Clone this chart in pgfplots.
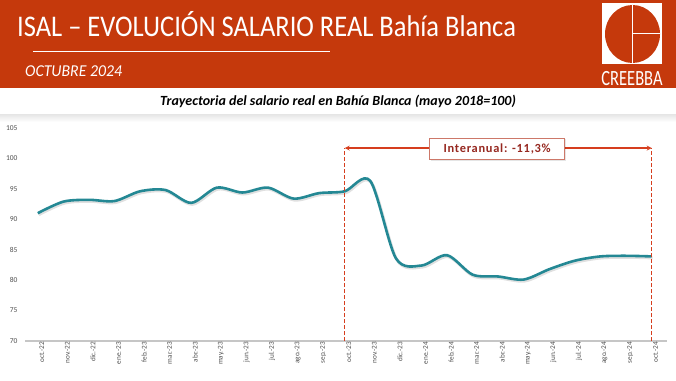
\documentclass[border=0pt]{standalone}
\usepackage{pgfplots}
\pgfplotsset{compat=1.18}
\usepackage{fontspec}
\setmainfont{Carlito}
\newfontfamily\spaced[LetterSpace=6]{Carlito}
\definecolor{banner}{RGB}{197,57,12}
\definecolor{teal1}{RGB}{36,136,148}
\definecolor{dashred}{RGB}{214,62,30}
\definecolor{txtred}{RGB}{150,40,32}
\definecolor{boxred}{RGB}{205,120,105}
\definecolor{ticktxt}{RGB}{80,80,80}
\begin{document}
\begin{tikzpicture}[x=1pt,y=1pt]
\useasboundingbox (0,0) rectangle (676,380);
\fill[white] (0,0) rectangle (676,380);
% banner
\fill[banner] (0,292) rectangle (676,380);
\node[anchor=base west,inner sep=0,text=white] at (17,343.3) {\scalebox{0.883}[1]{\fontsize{30}{32}\selectfont ISAL – EVOLUCIÓN SALARIO REAL Bahía Blanca}};
\draw[white,line width=1.5pt] (33,328.3) -- (330,328.3);
\node[anchor=base west,inner sep=0,text=white] at (25,303.3) {\scalebox{0.95}[1]{\fontsize{16.6}{18}\selectfont\itshape OCTUBRE 2024}};
% logo
\fill[white] (602,316) rectangle (662,377);
\fill[banner] (632.5,346) ellipse [x radius=27.5, y radius=29];
\draw[white,line width=1.6pt] (632.5,317) -- (632.5,375);
\draw[white,line width=1.6pt] (632.5,346.5) -- (660,346.5);
\node[anchor=base,inner sep=0,text=white] at (632,294) {\scalebox{0.76}[1]{\fontsize{21.7}{23}\selectfont CREEBBA}};
% subtitle
\node[inner sep=0,font=\fontsize{14}{16}\selectfont\bfseries\itshape] at (338,279) {Trayectoria del salario real en Bahía Blanca (mayo 2018=100)};
\shade[top color=gray!18,bottom color=white] (0,258) rectangle (676,265);
% chart
\begin{axis}[
  at={(25pt,39pt)}, anchor=south west,
  scale only axis, width=642pt, height=213pt,
  xmin=-0.5, xmax=24.6, ymin=70, ymax=105,
  axis lines*=left,
  y axis line style={draw=none},
  x axis line style={draw=gray!45,line width=1.5pt},
  major tick length=0pt,
  xtick={0,...,24},
  xticklabels={oct.-22,nov.-22,dic.-22,ene.-23,feb.-23,mar.-23,abr.-23,may.-23,jun.-23,jul.-23,ago.-23,sep.-23,oct.-23,nov.-23,dic.-23,ene.-24,feb.-24,mar.-24,abr.-24,may.-24,jun.-24,jul.-24,ago.-24,sep.-24,oct.-24},
  xticklabel style={rotate=90,anchor=east,font=\fontsize{7.2}{8}\selectfont,text=ticktxt,inner sep=1pt,yshift=-4pt},
  ytick={70,75,...,105},
  yticklabel style={font=\fontsize{7.5}{8}\selectfont,text=ticktxt,xshift=-4pt},
  /pgf/number format/assume math mode=true,
  clip=false,
]
\addplot[smooth,tension=0.5,draw=black,opacity=0.12,line width=3pt,shift={(1pt,-1.5pt)}] coordinates {
(0,91.0)(1,92.9)(2,93.2)(3,93.0)(4,94.6)(5,94.8)(6,92.7)(7,95.2)(8,94.4)(9,95.2)(10,93.4)(11,94.3)(12,94.6)(13,96.3)(14,83.6)(15,82.4)(16,84.1)(17,80.9)(18,80.6)(19,80.1)(20,81.8)(21,83.2)(22,83.9)(23,84.0)(24,83.9)};
\addplot[smooth,tension=0.5,draw=teal1,line width=2.6pt] coordinates {
(0,91.0)(1,92.9)(2,93.2)(3,93.0)(4,94.6)(5,94.8)(6,92.7)(7,95.2)(8,94.4)(9,95.2)(10,93.4)(11,94.3)(12,94.6)(13,96.3)(14,83.6)(15,82.4)(16,84.1)(17,80.9)(18,80.6)(19,80.1)(20,81.8)(21,83.2)(22,83.9)(23,84.0)(24,83.9)};
\draw[dashred,line width=1.3pt,dash pattern=on 4pt off 2pt] (axis cs:12,70) -- (axis cs:12,101.7);
\draw[dashred,line width=1.3pt,dash pattern=on 4pt off 2pt] (axis cs:24,70) -- (axis cs:24,101.7);
\draw[dashred,line width=1.2pt,<->,>=stealth] (axis cs:12,101.7) -- (axis cs:24,101.7);
\node[fill=black,opacity=0.10,minimum width=135pt,minimum height=21.5pt,inner sep=0] at ([shift={(1.5pt,-1.5pt)}]axis cs:17.96,101.6) {};
\node[fill=white,draw=boxred,line width=0.8pt,minimum width=135pt,minimum height=21.5pt,inner sep=0,text=txtred,font=\fontsize{12.4}{13}\selectfont\spaced\bfseries] at (axis cs:17.96,101.6) {Interanual: -11,3\%};
\end{axis}
\end{tikzpicture}
\end{document}
